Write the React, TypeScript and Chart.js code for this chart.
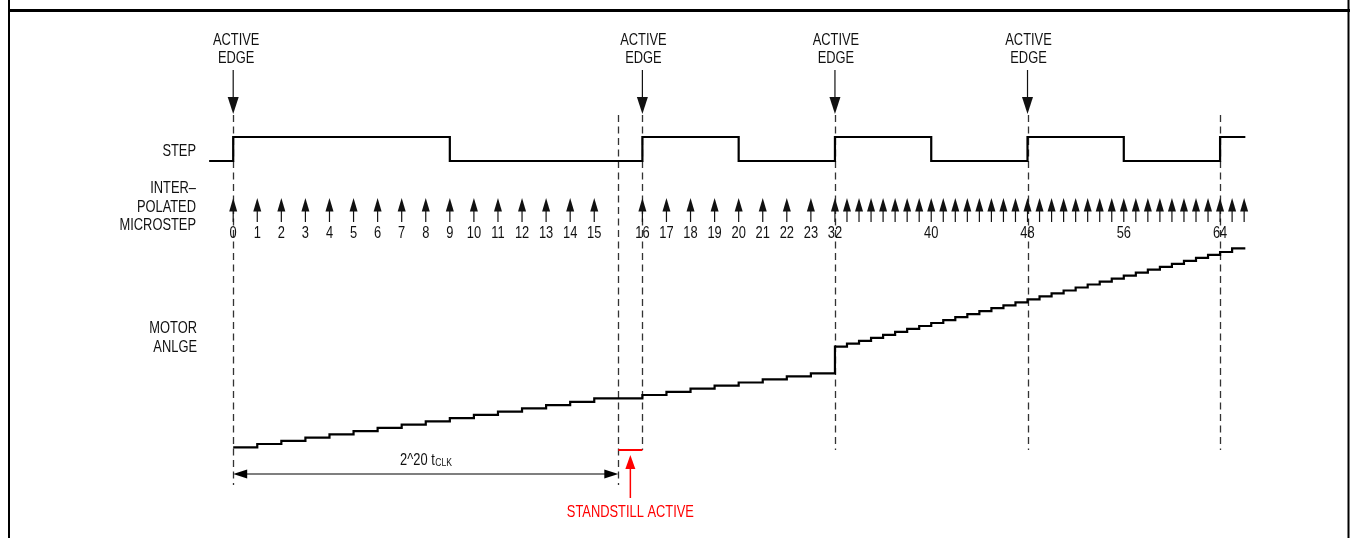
import React, { useEffect, useRef } from "react";
import { Chart, registerables } from "chart.js";

Chart.register(...registerables);

// ---- Data (time axis in interpolated-microstep clock periods) ----
// STEP input waveform
const stepTimes = [-1, 0, 9, 17, 21, 25, 29, 33, 37, 41, 42.05];
const stepLevels = [0, 1, 0, 1, 0, 1, 0, 1, 0, 1, 1];

// Interpolated microsteps: index and the time of each microstep
const microstepIndex = [
  0, 1, 2, 3, 4, 5, 6, 7, 8, 9, 10, 11, 12, 13, 14, 15,
  16, 17, 18, 19, 20, 21, 22, 23,
  32, 33, 34, 35, 36, 37, 38, 39, 40, 41, 42, 43, 44, 45, 46, 47,
  48, 49, 50, 51, 52, 53, 54, 55, 56, 57, 58, 59, 60, 61, 62, 63,
  64, 65, 66,
];
const microstepTimes = [
  0, 1, 2, 3, 4, 5, 6, 7, 8, 9, 10, 11, 12, 13, 14, 15,
  17, 18, 19, 20, 21, 22, 23, 24,
  25, 25.5, 26, 26.5, 27, 27.5, 28, 28.5, 29, 29.5, 30, 30.5, 31, 31.5, 32, 32.5,
  33, 33.5, 34, 34.5, 35, 35.5, 36, 36.5, 37, 37.5, 38, 38.5, 39, 39.5, 40, 40.5,
  41, 41.5, 42,
];
// Microsteps that carry a number label
const labeledMicrosteps = [
  0, 1, 2, 3, 4, 5, 6, 7, 8, 9, 10, 11, 12, 13, 14, 15,
  16, 17, 18, 19, 20, 21, 22, 23, 32, 40, 48, 56, 64,
];

// Motor angle (arbitrary units) reached at each microstep 0..65
const motorAngle = [
  0, 3.3, 6.5, 9.7, 13, 16.2, 19.5, 22.7, 25.9, 29.2, 32.4, 35.6, 38.9, 42.1, 45.4, 49,
  52.3, 55.5, 58.6, 61.7, 64.8, 67.9, 70.9, 74,
  100.6, 103.6, 106.5, 109.5, 112.4, 115.4, 118.4, 121.3,
  124.3, 127.2, 130.2, 133.2, 136.1, 139.1, 142, 145,
  148, 150.9, 153.9, 156.8, 159.8, 162.8, 165.7, 168.7,
  171.6, 174.6, 177.6, 180.5, 183.5, 186.4, 189.4, 192.4,
  195.3, 199,
];
const motorEndTime = 42.05;

// Annotations
const activeEdgeTimes = [0, 17, 25, 33];
const markerTimes = [0, 16, 17, 25, 33, 41];
const markerLong = [true, true, false, false, false, false];
const standstillStart = 16;
const standstillEnd = 17;
const dimensionStart = 0;
const dimensionEnd = 16;

// ---- Layout helpers ----
const W = 1354;
const H = 538;
const PX_PER_T = 24.07;
const T0_PX = 233.2;

function rangeFor(v0: number, px0: number, v1: number, px1: number) {
  const k = (px0 - px1) / (v1 - v0);
  const min = v0 - (H - px0) / k;
  return { min, max: min + H / k };
}

const FONT = '"Liberation Sans", Arial, sans-serif';
const CONDENSE = 0.78;
const FS = 16.5;

function txt(
  ctx: CanvasRenderingContext2D,
  s: string,
  x: number,
  y: number,
  align: CanvasTextAlign,
  size = FS,
  color = "#111"
) {
  ctx.save();
  ctx.translate(x, y);
  ctx.scale(CONDENSE, 1);
  ctx.font = `${size}px ${FONT}`;
  ctx.fillStyle = color;
  ctx.textAlign = align;
  ctx.textBaseline = "middle";
  ctx.fillText(s, 0, 0);
  ctx.restore();
}

function txtWidth(ctx: CanvasRenderingContext2D, s: string, size: number) {
  ctx.save();
  ctx.font = `${size}px ${FONT}`;
  const w = ctx.measureText(s).width * CONDENSE;
  ctx.restore();
  return w;
}

const diagramPlugin = {
  id: "timingDiagram",
  beforeDatasetsDraw(chart: any) {
    const ctx = chart.ctx as CanvasRenderingContext2D;
    const xs = chart.scales.x;
    const ly = chart.scales.yLay;
    ctx.save();
    ctx.fillStyle = "#ffffff";
    ctx.fillRect(0, 0, W, H);
    // dashed marker lines
    ctx.strokeStyle = "#333";
    ctx.lineWidth = 1.3;
    ctx.setLineDash([7, 4.5]);
    markerTimes.forEach((t, i) => {
      const x = Math.round(xs.getPixelForValue(t)) + 0.5;
      ctx.beginPath();
      ctx.moveTo(x, ly.getPixelForValue(115));
      ctx.lineTo(x, ly.getPixelForValue(markerLong[i] ? 485 : 450));
      ctx.stroke();
    });
    ctx.setLineDash([]);
    ctx.restore();
  },
  afterDatasetsDraw(chart: any) {
    const ctx = chart.ctx as CanvasRenderingContext2D;
    const xs = chart.scales.x;
    const ly = chart.scales.yLay;
    const Y = (v: number) => ly.getPixelForValue(v);
    ctx.save();

    // frame
    ctx.strokeStyle = "#000";
    ctx.lineWidth = 2;
    ctx.beginPath();
    ctx.moveTo(9, 0);
    ctx.lineTo(9, H);
    ctx.moveTo(1348.5, 0);
    ctx.lineTo(1348.5, H);
    ctx.stroke();
    ctx.lineWidth = 3;
    ctx.beginPath();
    ctx.moveTo(8, 10.5);
    ctx.lineTo(1350, 10.5);
    ctx.stroke();

    ctx.fillStyle = "#111";
    ctx.strokeStyle = "#111";

    // left labels
    txt(ctx, "STEP", 196, Y(151), "right");
    txt(ctx, "INTER\u2013", 196, Y(188.5), "right");
    txt(ctx, "POLATED", 196, Y(207), "right");
    txt(ctx, "MICROSTEP", 196, Y(225.5), "right");
    txt(ctx, "MOTOR", 197, Y(328), "right");
    txt(ctx, "ANLGE", 197, Y(347), "right");

    // active edge labels + arrows
    activeEdgeTimes.forEach((t, i) => {
      const x = xs.getPixelForValue(t);
      const off = i === 0 ? 3 : 1;
      txt(ctx, "ACTIVE", x + off, Y(40), "center");
      txt(ctx, "EDGE", x + off, Y(58), "center");
      ctx.lineWidth = 1.2;
      ctx.beginPath();
      ctx.moveTo(x, Y(70));
      ctx.lineTo(x, Y(100));
      ctx.stroke();
      ctx.beginPath();
      ctx.moveTo(x - 5.5, Y(97));
      ctx.lineTo(x + 5.5, Y(97));
      ctx.lineTo(x, Y(114));
      ctx.closePath();
      ctx.fill();
    });

    // microstep arrows
    microstepTimes.forEach((t, i) => {
      const x = xs.getPixelForValue(t);
      ctx.lineWidth = 1.2;
      ctx.beginPath();
      ctx.moveTo(x, Y(208));
      ctx.lineTo(x, Y(222));
      ctx.stroke();
      ctx.beginPath();
      ctx.moveTo(x - 4, Y(211.5));
      ctx.lineTo(x + 4, Y(211.5));
      ctx.lineTo(x, Y(198));
      ctx.closePath();
      ctx.fill();
      if (labeledMicrosteps.includes(microstepIndex[i])) {
        txt(ctx, String(microstepIndex[i]), x, Y(233.5), "center");
      }
    });

    // dimension line 2^20 tCLK
    const xa = xs.getPixelForValue(dimensionStart);
    const xb = xs.getPixelForValue(dimensionEnd);
    const yd = Y(474);
    ctx.strokeStyle = "#555";
    ctx.lineWidth = 1.5;
    ctx.beginPath();
    ctx.moveTo(xa + 10, yd);
    ctx.lineTo(xb - 10, yd);
    ctx.stroke();
    ctx.fillStyle = "#000";
    ctx.beginPath();
    ctx.moveTo(xa, yd);
    ctx.lineTo(xa + 14, yd - 4.5);
    ctx.lineTo(xa + 14, yd + 4.5);
    ctx.closePath();
    ctx.fill();
    ctx.beginPath();
    ctx.moveTo(xb, yd);
    ctx.lineTo(xb - 14, yd - 4.5);
    ctx.lineTo(xb - 14, yd + 4.5);
    ctx.closePath();
    ctx.fill();
    const mid = (xa + xb) / 2;
    const mainTxt = "2^20 t";
    const mainW = txtWidth(ctx, mainTxt, FS);
    const subW = txtWidth(ctx, "CLK", 11);
    const startX = mid - (mainW + subW) / 2;
    txt(ctx, mainTxt, startX, Y(460), "left");
    txt(ctx, "CLK", startX + mainW + 0.5, Y(462.5), "left", 11);

    // standstill marker (red)
    const xs0 = xs.getPixelForValue(standstillStart);
    const xs1 = xs.getPixelForValue(standstillEnd);
    const xm = (xs0 + xs1) / 2;
    ctx.strokeStyle = "#ff0000";
    ctx.fillStyle = "#ff0000";
    ctx.lineWidth = 2;
    ctx.beginPath();
    ctx.moveTo(xs0, Y(450));
    ctx.lineTo(xs1, Y(450));
    ctx.stroke();
    ctx.lineWidth = 1.5;
    ctx.beginPath();
    ctx.moveTo(xm, Y(466));
    ctx.lineTo(xm, Y(498));
    ctx.stroke();
    ctx.beginPath();
    ctx.moveTo(xm, Y(455));
    ctx.lineTo(xm - 5, Y(469));
    ctx.lineTo(xm + 5, Y(469));
    ctx.closePath();
    ctx.fill();
    txt(ctx, "STANDSTILL ACTIVE", xm, Y(512), "center", FS, "#ff0000");

    ctx.restore();
  },
};

export default function App() {
  const ref = useRef<HTMLCanvasElement>(null);

  useEffect(() => {
    const canvas = ref.current;
    if (!canvas) return;

    const stepData = stepTimes.map((t, i) => ({ x: t, y: stepLevels[i] }));
    const motorData = motorAngle.map((a, i) => ({ x: microstepTimes[i], y: a }));
    motorData.push({ x: motorEndTime, y: motorAngle[motorAngle.length - 1] });

    const stepRange = rangeFor(0, 161, 1, 137);
    const angleRange = rangeFor(0, 447.3, 100, 347.3);

    const chart = new Chart(canvas, {
      type: "line",
      data: {
        datasets: [
          {
            label: "STEP",
            data: stepData,
            yAxisID: "yStep",
            borderColor: "#000",
            borderWidth: 2.2,
            pointRadius: 0,
            stepped: true,
            fill: false,
          },
          {
            label: "MOTOR ANGLE",
            data: motorData,
            yAxisID: "yAngle",
            borderColor: "#000",
            borderWidth: 2.2,
            pointRadius: 0,
            stepped: true,
            fill: false,
          },
        ],
      },
      options: {
        responsive: false,
        animation: false,
        devicePixelRatio: 1,
        layout: { padding: 0 },
        events: [],
        plugins: {
          legend: { display: false },
          tooltip: { enabled: false },
          title: { display: false },
        },
        scales: {
          x: {
            type: "linear",
            display: false,
            min: -T0_PX / PX_PER_T,
            max: (W - T0_PX) / PX_PER_T,
          },
          yStep: {
            type: "linear",
            display: false,
            min: stepRange.min,
            max: stepRange.max,
          },
          yAngle: {
            type: "linear",
            display: false,
            min: angleRange.min,
            max: angleRange.max,
          },
          yLay: {
            type: "linear",
            display: false,
            reverse: true,
            min: 0,
            max: H,
          },
        },
      },
      plugins: [diagramPlugin],
    });

    return () => chart.destroy();
  }, []);

  return (
    <div
      style={{
        position: "absolute",
        left: 0,
        top: 0,
        width: W,
        height: H,
        background: "#fff",
      }}
    >
      <canvas ref={ref} width={W} height={H} style={{ display: "block" }} />
    </div>
  );
}
